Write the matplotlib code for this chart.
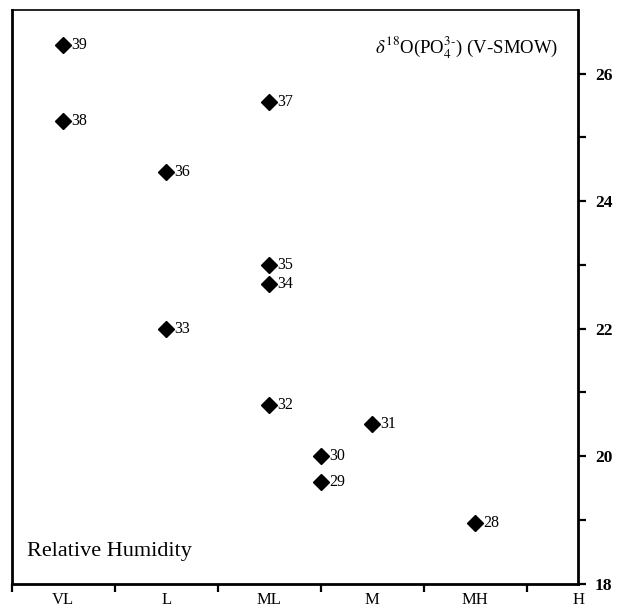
import matplotlib
matplotlib.use('Agg')
import matplotlib.pyplot as plt

plt.rcParams['font.family'] = 'Liberation Serif'
plt.rcParams['mathtext.fontset'] = 'stix'

# humidity classes on the x axis
categories = ['VL', 'L', 'ML', 'M', 'MH', 'H']

# sample numbers, humidity position (class index) and d18O of phosphate
samples = [39, 38, 36, 33, 37, 35, 34, 32, 31, 30, 29, 28]
humidity = [0, 0, 1, 1, 2, 2, 2, 2, 3, 2.5, 2.5, 4]
d18o = [26.45, 25.25, 24.45, 22.0, 25.55, 23.0, 22.7, 20.8, 20.5, 20.0, 19.6, 18.95]

fig = plt.figure(figsize=(6.19, 6.11), dpi=100)
ax = fig.add_axes([0.019, 0.045, 0.915, 0.939])

ax.plot(humidity, d18o, 'D', color='black', markersize=7.8, linestyle='none')
for s, x, y in zip(samples, humidity, d18o):
    ax.annotate(str(s), (x, y), xytext=(6, 0), textcoords='offset points',
                ha='left', va='center', fontsize=11.5)

ax.set_xlim(-0.5, 5.0)
ax.set_ylim(18, 27)

# x axis: labels on the classes, tick marks between them
ax.set_xticks(range(len(categories)))
ax.set_xticklabels(categories, fontsize=12)
ax.set_xticks([-0.5, 0.5, 1.5, 2.5, 3.5, 4.5], minor=True)
ax.tick_params(axis='x', which='major', length=0, pad=6)
ax.tick_params(axis='x', which='minor', length=6, width=1.6, direction='out')

# y axis on the right
ax.yaxis.tick_right()
ax.set_yticks([18, 20, 22, 24, 26])
ax.set_yticks([19, 21, 23, 25], minor=True)
ax.tick_params(axis='y', which='both', length=6, width=1.6, direction='out', labelsize=12.5, pad=6)
for lbl in ax.get_yticklabels():
    lbl.set_fontweight('bold')

for side in ['left', 'right', 'bottom', 'top']:
    ax.spines[side].set_linewidth(2.0)
ax.spines['top'].set_linewidth(1.2)

ax.text(0.965, 26.4, r'$\delta^{18}$O(PO$_4^{3\text{-}}$) (V-SMOW)', transform=ax.get_yaxis_transform(),
        ha='right', va='center', fontsize=13.5)
ax.text(-0.35, 18.5, 'Relative Humidity', ha='left', va='center', fontsize=16)

plt.savefig('out.png', dpi=100)
